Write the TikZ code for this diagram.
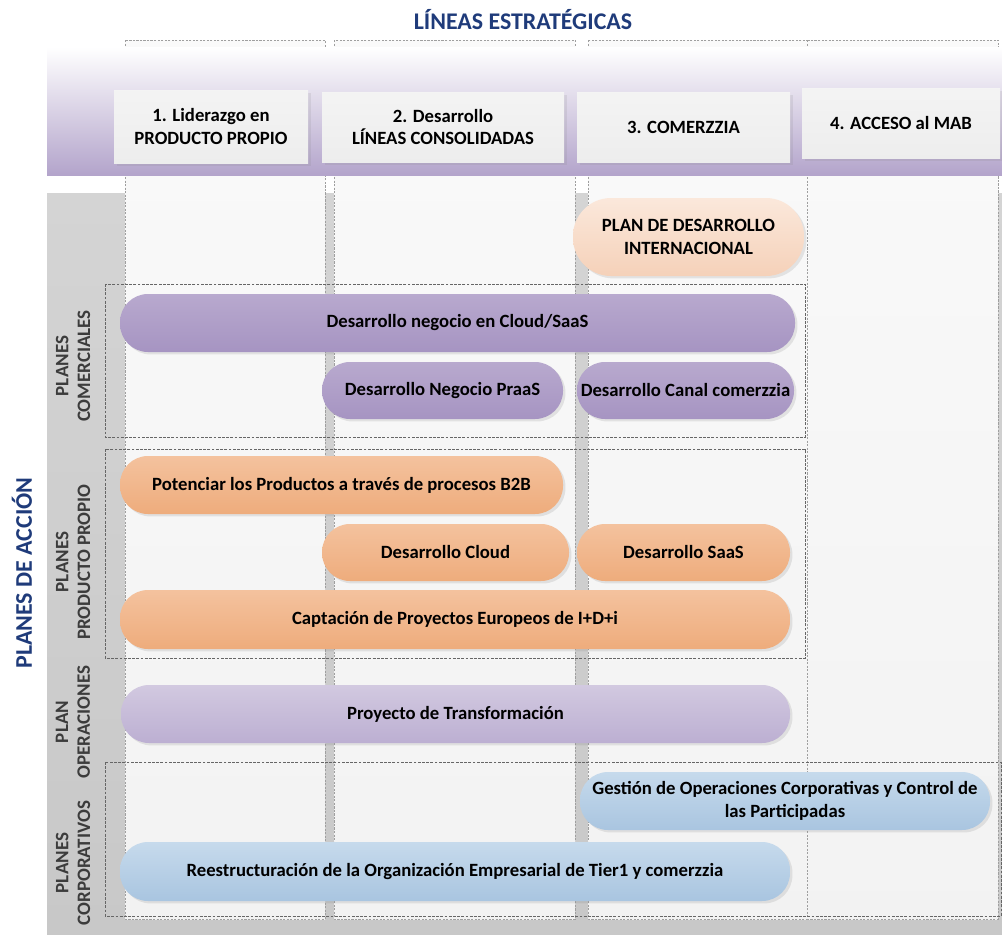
\documentclass[tikz,border=0pt]{standalone}
\usepackage{fontspec}
\setmainfont{Carlito}
\usepackage{tikz}
\usetikzlibrary{shadows}
\definecolor{azultitulo}{HTML}{1F3B7A}
\definecolor{lavbanda}{HTML}{B3A4CB}
\definecolor{grisfondo}{HTML}{D4D4D4}
\definecolor{grisfondob}{HTML}{C8C8C8}
\definecolor{comarriba}{HTML}{B8A9CE}
\definecolor{comabajo}{HTML}{A694C2}
\definecolor{prodarriba}{HTML}{F4C29E}
\definecolor{prodabajo}{HTML}{EEAC7C}
\definecolor{operarriba}{HTML}{D2C9E0}
\definecolor{operabajo}{HTML}{BCAFD2}
\definecolor{corparriba}{HTML}{C6DAEC}
\definecolor{corpabajo}{HTML}{A9C5E0}
\definecolor{intarriba}{HTML}{FBE8DB}
\definecolor{intabajo}{HTML}{F5D1B9}
\definecolor{textofila}{HTML}{3C3C3C}

\begin{document}
\begin{tikzpicture}[x=0.025cm,y=-0.025cm,
  tam/.style 2 args={minimum width=#1*0.025cm,minimum height=#2*0.025cm,inner sep=0pt},
  letra/.style={font=\bfseries\fontsize{13.3}{16.2}\selectfont},
  pildora/.style={letra,align=center,rounded corners=0.7cm,
    drop shadow={shadow xshift=0.06cm,shadow yshift=-0.06cm,opacity=0.18}},
  comercial/.style={pildora,top color=comarriba,bottom color=comabajo},
  producto/.style={pildora,top color=prodarriba,bottom color=prodabajo},
  operacion/.style={pildora,top color=operarriba,bottom color=operabajo},
  corporativo/.style={pildora,top color=corparriba,bottom color=corpabajo},
  cabecera/.style={letra,align=center,top color=gray!9,bottom color=gray!14,
    drop shadow={shadow xshift=0.08cm,shadow yshift=-0.08cm,opacity=0.15}},
  columna/.style={draw=gray!75,dash pattern=on 1.5pt off 1pt,line width=0.4pt,
    top color=gray!4,bottom color=gray!10},
  grupo/.style={draw=gray!120,dash pattern=on 2pt off 1pt,line width=0.5pt},
  fila/.style={rotate=90,align=center,text=textofila,font=\bfseries\fontsize{13.5}{15.5}\selectfont},
  titular/.style={text=azultitulo,font=\bfseries\fontsize{17}{20}\selectfont}]
\useasboundingbox (0,0) rectangle (1002,935);
\fill[top color=grisfondo,bottom color=grisfondob] (47,193) rectangle (1002,935);
\draw[columna] (125,40) rectangle (325,919);
\draw[columna] (334,40) rectangle (575,919);
\draw[columna] (588,40) rectangle (807,919);
\draw[columna] (807,40) rectangle (998,919);
\fill[top color=white,bottom color=lavbanda] (47,47) rectangle (1002,175);

\node[titular] (titulo) at (523,20) {LÍNEAS ESTRATÉGICAS};
\node[cabecera,tam={194}{73}] (linea1) at (211,126.5) {1. Liderazgo en\\PRODUCTO PROPIO};
\node[cabecera,tam={242}{70}] (linea2) at (443,127) {2. Desarrollo\\LÍNEAS CONSOLIDADAS};
\node[cabecera,tam={213}{70}] (linea3) at (683.5,127) {3. COMERZZIA};
\node[cabecera,tam={198}{70}] (linea4) at (901,123) {4. ACCESO al MAB};

\draw[grupo] (105,284) rectangle (805,437);
\draw[grupo] (105,449) rectangle (805,658);
\draw[grupo] (105,762) rectangle (1001,916);

\node[titular,rotate=90] (acciones) at (22,573) {PLANES DE ACCIÓN};
\node[fila] (filacom) at (73,366) {PLANES\\COMERCIALES};
\node[fila] (filaprod) at (73,562) {PLANES\\PRODUCTO PROPIO};
\node[fila] (filaoper) at (73,722) {PLAN\\OPERACIONES};
\node[fila] (filacorp) at (73,863) {PLANES\\CORPORATIVOS};

\node[pildora,rounded corners=0.95cm,top color=intarriba,bottom color=intabajo,tam={231}{78}] (internacional) at (688.5,237) {PLAN DE DESARROLLO\\INTERNACIONAL};
\node[comercial,tam={675}{58}] (cloudsaas) at (457.5,323) {Desarrollo negocio en Cloud/SaaS};
\node[comercial,tam={241}{57}] (praas) at (442.5,390.5) {Desarrollo Negocio PraaS};
\node[comercial,tam={217}{57}] (canal) at (685.5,390.5) {Desarrollo Canal comerzzia};
\node[producto,tam={443}{58}] (btob) at (341.5,485) {Potenciar los Productos a través de procesos B2B};
\node[producto,tam={247}{57}] (cloud) at (445.5,552.5) {Desarrollo Cloud};
\node[producto,tam={213}{57}] (saas) at (683.5,552.5) {Desarrollo SaaS};
\node[producto,tam={670}{59}] (europa) at (455,619.5) {Captación de Proyectos Europeos de I+D+i};
\node[operacion,tam={669}{58}] (transformacion) at (455.5,714) {Proyecto de Transformación};
\node[corporativo,tam={410}{58}] (gestion) at (785,801) {Gestión de Operaciones Corporativas y Control de\\las Participadas};
\node[corporativo,tam={670}{59}] (reestructura) at (455,871.5) {Reestructuración de la Organización Empresarial de Tier1 y comerzzia};
\end{tikzpicture}
\end{document}
